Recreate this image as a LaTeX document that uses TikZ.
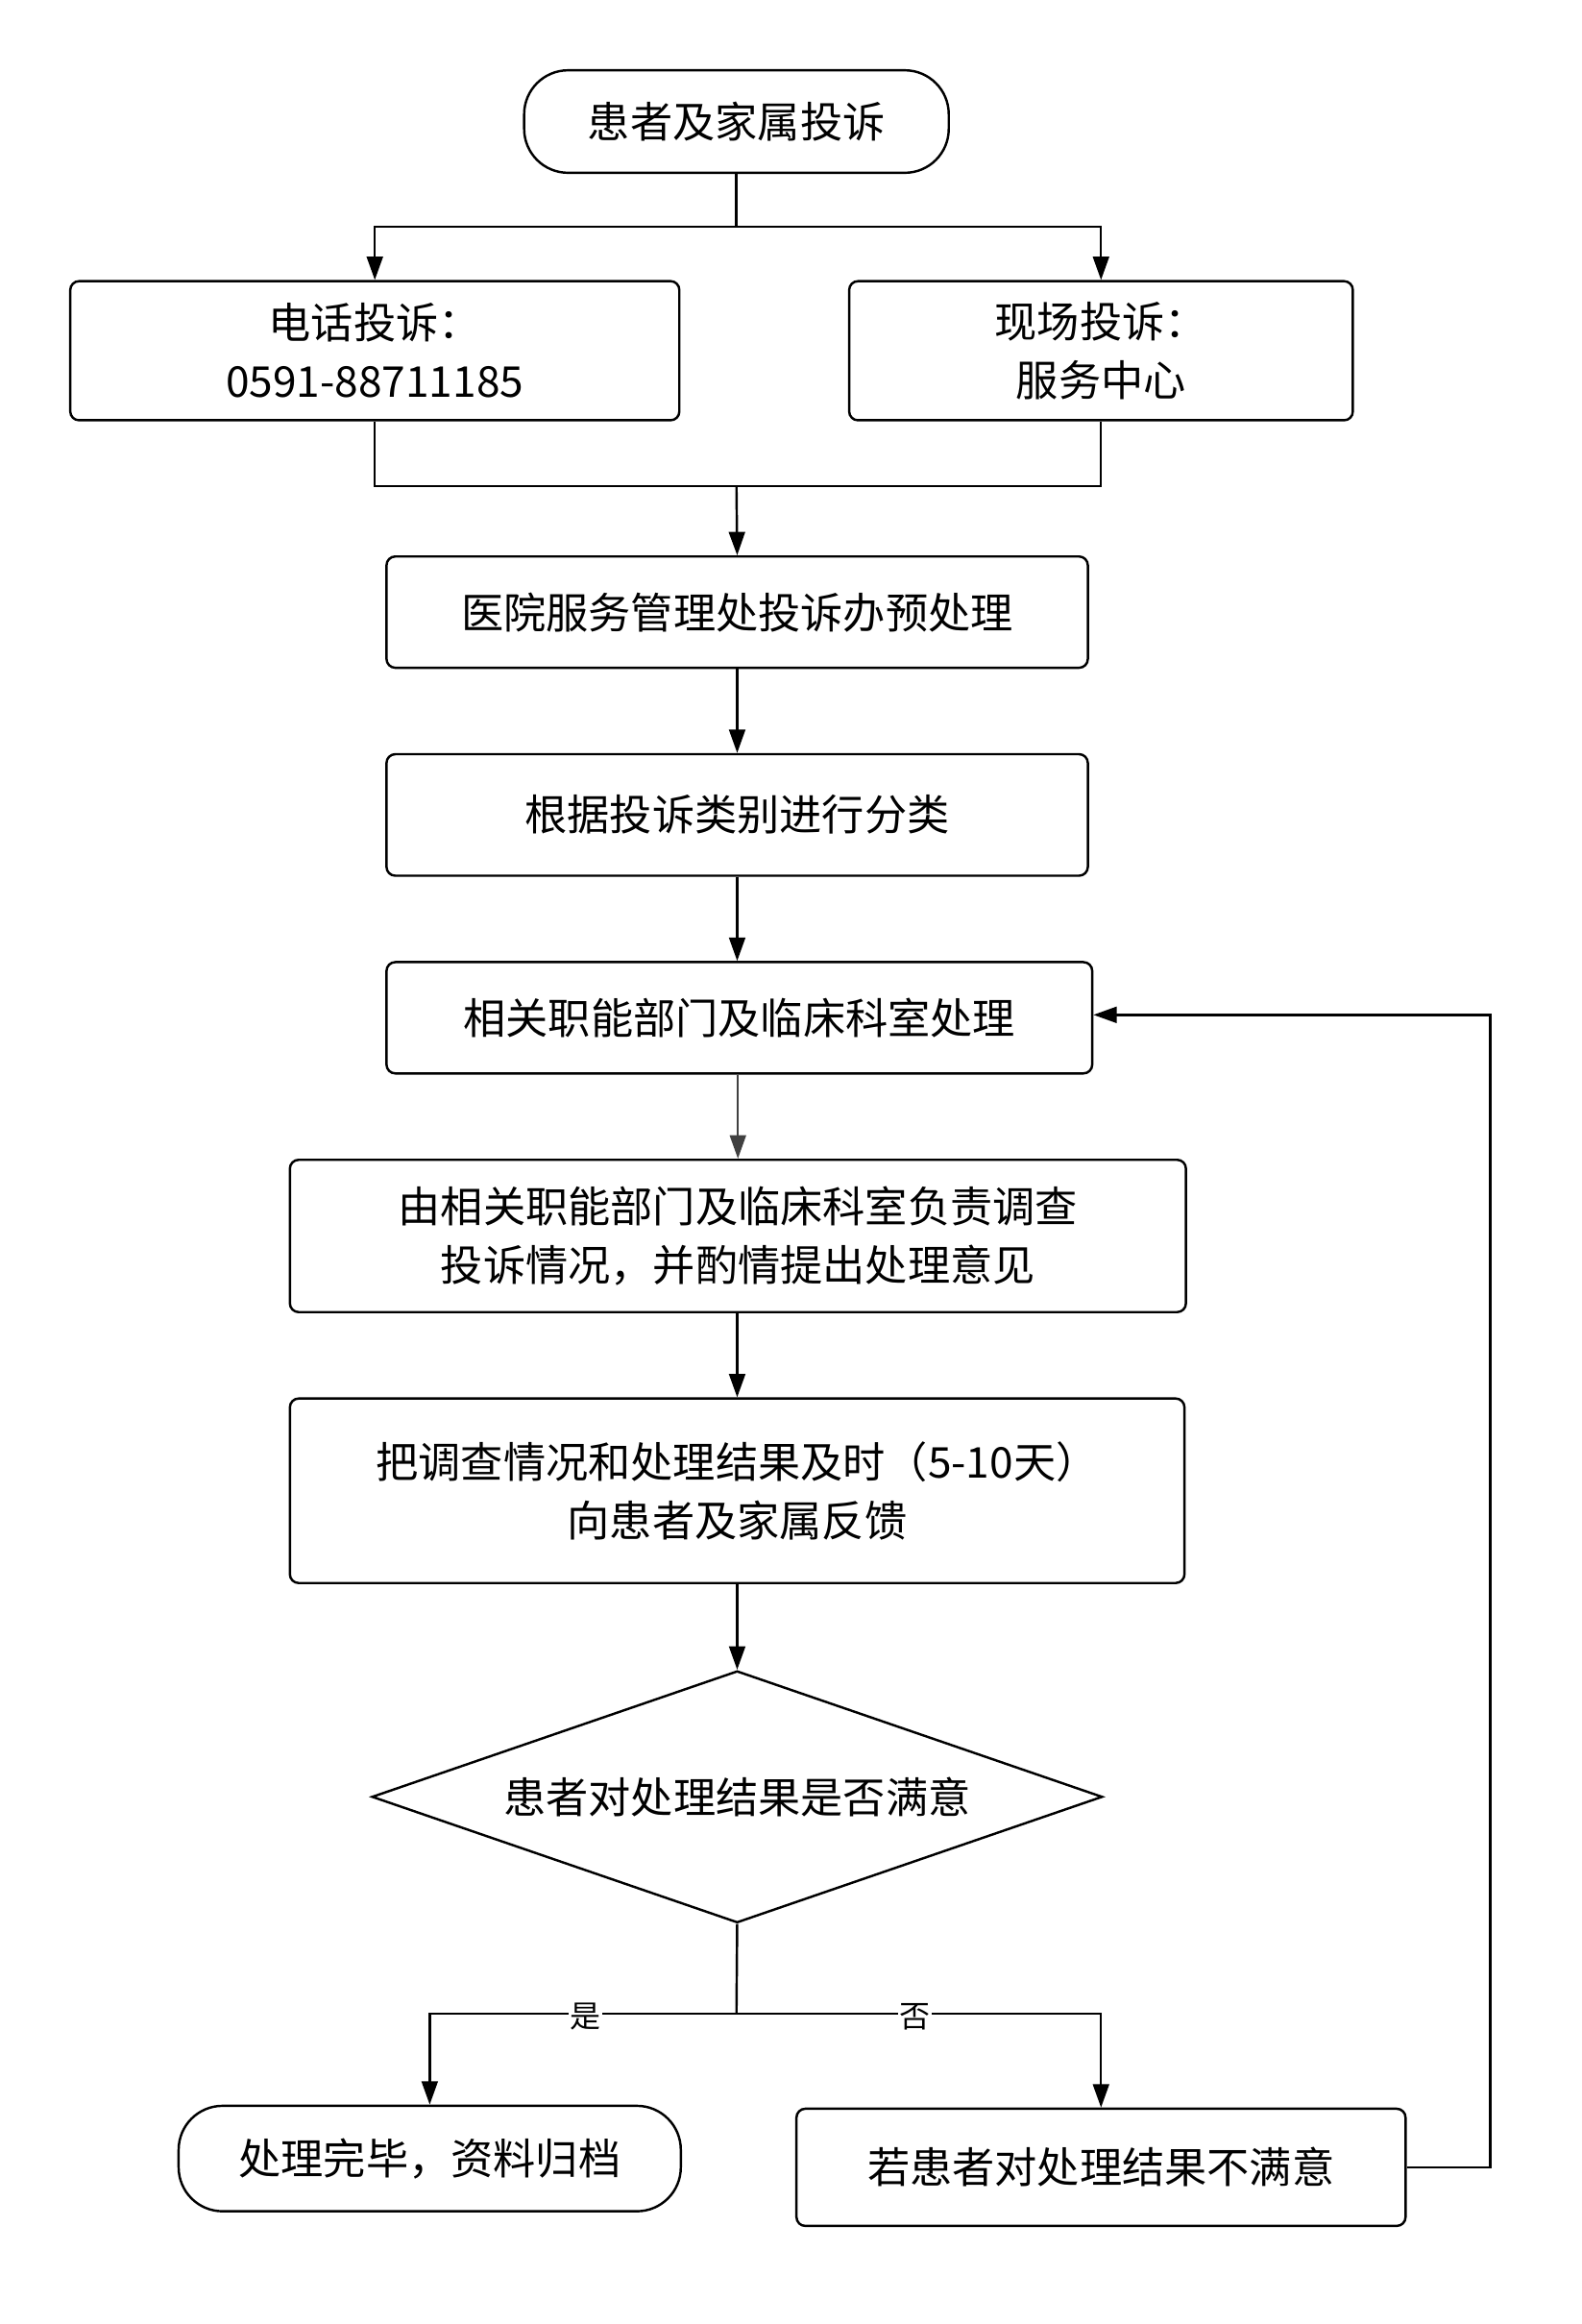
\documentclass[tikz,border=0pt]{standalone}
\usepackage{fontspec}
\setmainfont{Noto Sans CJK SC}
\usetikzlibrary{shapes.geometric,arrows.meta}
\begin{document}
\begin{tikzpicture}[x=1pt,y=-1pt,
  box/.style={draw,line width=1.6pt,rounded corners=6pt,align=center,font=\fontsize{29}{40}\selectfont,inner sep=0pt},
  pill/.style={box,rounded corners=30pt},
  ar/.style={line width=1.6pt,-{Triangle[length=16pt,width=11pt]}},
  ln/.style={line width=1.6pt}]
\useasboundingbox (0,0) rectangle (1080,1587);
\node[pill,minimum width=290pt,minimum height=70pt] (s) at (503,83) {患者及家属投诉};
\node[box,minimum width=416pt,minimum height=95pt] (p) at (256,239.5) {电话投诉：\\0591-88711185};
\node[box,minimum width=344pt,minimum height=95pt] (o) at (752,239.5) {现场投诉：\\服务中心};
\node[box,minimum width=479pt,minimum height=76pt] (pre) at (503.5,418) {医院服务管理处投诉办预处理};
\node[box,minimum width=479pt,minimum height=83pt] (c) at (503.5,556.5) {根据投诉类别进行分类};
\node[box,minimum width=482pt,minimum height=76pt] (d) at (505,695) {相关职能部门及临床科室处理};
\node[box,minimum width=612pt,minimum height=104pt] (i) at (504,844) {由相关职能部门及临床科室负责调查\\投诉情况，并酌情提出处理意见};
\node[box,minimum width=611pt,minimum height=126pt] (f) at (503.5,1018) {把调查情况和处理结果及时（5-10天）\\向患者及家属反馈};
\node[draw,line width=1.6pt,diamond,aspect=2.9,minimum width=499pt,minimum height=172pt,inner sep=0pt,font=\fontsize{29}{40}\selectfont] (q) at (503.5,1227) {};
\node[font=\fontsize{29}{40}\selectfont] at (503.5,1227) {患者对处理结果是否满意};
\node[pill,minimum width=343pt,minimum height=72pt] (done) at (293.5,1474) {处理完毕，资料归档};
\node[box,minimum width=416pt,minimum height=80pt] (u) at (752,1480) {若患者对处理结果不满意};
\coordinate (j1) at (503,155);
\coordinate (j2) at (503,332);
\coordinate (j3) at (503,1375);
\draw[ln] (s.south) -- (j1);
\draw[ar] (j1) -| (p.north);
\draw[ar] (j1) -| (o.north);
\draw[ln] (p.south) |- (j2);
\draw[ln] (o.south) |- (j2);
\draw[ar] (j2) -- (pre.north);
\draw[ar] (pre) -- (c);
\draw[ar] (c.south) -- (c.south|-d.north);
\draw[ar,draw=black!75] (d.south-|i.north) -- (i.north);
\draw[ar] (i.south-|f.north) -- (f.north);
\draw[ar] (f.south) -- (q.north);
\draw[ln] (q.south) -- (j3);
\draw[ar] (j3) -| (done.north);
\draw[ar] (j3) -| (u.north);
\node[fill=white,font=\fontsize{21}{24}\selectfont,inner sep=1pt] at (400,1377) {是};
\node[fill=white,font=\fontsize{21}{24}\selectfont,inner sep=1pt] at (625,1377) {否};
\draw[ar] (u.east) -- (1018,1480) -- (1018,693) -- (d.east|-0,693);
\end{tikzpicture}
\end{document}
